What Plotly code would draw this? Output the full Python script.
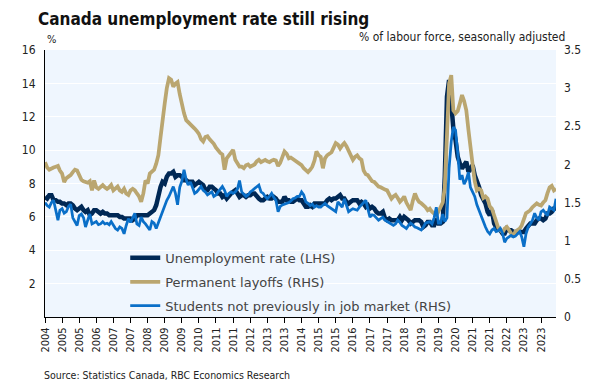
import pandas as pd
import plotly.graph_objects as go

# Monthly observations, Aug 2004 .. Jul 2024
dates = pd.date_range("2004-08-01", periods=240, freq="MS")

unemployment = [
    # 2004 Aug-Dec
    7.2, 7.1, 7.3, 7.3, 7.0,
    # 2005
    7.0, 6.9, 6.9, 6.8, 6.8, 6.7, 6.8, 6.8, 6.7, 6.5, 6.4, 6.5,
    # 2006
    6.6, 6.4, 6.3, 6.4, 6.1, 6.2, 6.4, 6.4, 6.3, 6.2, 6.3, 6.2,
    # 2007
    6.2, 6.1, 6.1, 6.1, 6.1, 6.1, 6.0, 6.0, 5.9, 5.9, 5.9, 5.9,
    # 2008
    5.8, 5.9, 6.1, 6.1, 6.1, 6.1, 6.1, 6.1, 6.2, 6.3, 6.4, 6.7,
    # 2009
    7.3, 7.8, 8.1, 8.0, 8.4, 8.6, 8.6, 8.7, 8.4, 8.5, 8.5, 8.4,
    # 2010
    8.2, 8.2, 8.1, 8.1, 8.1, 7.9, 8.0, 8.1, 8.0, 7.9, 7.6, 7.6,
    # 2011
    7.8, 7.8, 7.7, 7.6, 7.4, 7.4, 7.2, 7.3, 7.1, 7.3, 7.4, 7.5,
    # 2012
    7.6, 7.4, 7.2, 7.3, 7.3, 7.2, 7.3, 7.3, 7.4, 7.4, 7.2, 7.1,
    # 2013
    7.0, 7.0, 7.1, 7.2, 7.1, 7.1, 7.2, 7.1, 6.9, 6.9, 6.9, 7.2,
    # 2014
    7.0, 7.0, 6.9, 6.9, 7.0, 7.1, 7.0, 7.0, 6.8, 6.6, 6.6, 6.7,
    # 2015
    6.6, 6.8, 6.8, 6.8, 6.8, 6.8, 6.8, 7.0, 7.1, 7.0, 7.1, 7.1,
    # 2016
    7.2, 7.3, 7.1, 7.1, 6.9, 6.8, 6.9, 7.0, 7.0, 7.0, 6.8, 6.9,
    # 2017
    6.8, 6.6, 6.7, 6.5, 6.6, 6.5, 6.3, 6.2, 6.2, 6.3, 5.9, 5.8,
    # 2018
    5.9, 5.8, 5.8, 5.8, 5.8, 6.0, 5.8, 6.0, 5.9, 5.8, 5.6, 5.7,
    # 2019
    5.8, 5.8, 5.8, 5.7, 5.4, 5.5, 5.7, 5.7, 5.5, 5.5, 5.9, 5.6,
    # 2020
    5.6, 5.7, 8.4, 13.2, 14.2, 12.8, 11.3, 10.6, 9.6, 9.2, 8.9, 9.1,
    # 2021
    9.3, 8.7, 8.9, 9.1, 8.5, 8.2, 7.8, 7.3, 7.0, 6.8, 6.3, 6.1,
    # 2022
    6.4, 5.6, 5.4, 5.3, 5.2, 5.0, 5.0, 5.3, 5.2, 5.2, 5.1, 5.1,
    # 2023
    5.1, 5.1, 5.1, 5.1, 5.3, 5.5, 5.6, 5.6, 5.6, 5.8, 5.9, 5.9,
    # 2024 Jan-Jul
    5.8, 5.9, 6.2, 6.2, 6.3, 6.5, 6.5,
]

permanent_layoffs = [
    # 2004 Aug-Dec
    2.03, 1.96, 1.93, 1.95, 1.96,
    # 2005
    1.97, 1.98, 1.92, 1.88, 1.77, 1.82, 1.84, 1.86, 1.90, 1.93, 1.92, 1.85,
    # 2006
    1.80, 1.78, 1.77, 1.76, 1.78, 1.66, 1.79, 1.70, 1.68, 1.71, 1.73, 1.70,
    # 2007
    1.68, 1.70, 1.73, 1.66, 1.68, 1.71, 1.66, 1.64, 1.68, 1.62, 1.60, 1.66,
    # 2008
    1.68, 1.66, 1.62, 1.58, 1.51, 1.62, 1.79, 1.75, 1.88, 1.90, 1.93, 2.01,
    # 2009
    2.12, 2.36, 2.60, 2.80, 3.00, 3.13, 3.11, 3.02, 3.06, 3.08, 2.92, 2.78,
    # 2010
    2.67, 2.58, 2.55, 2.52, 2.50, 2.47, 2.44, 2.40, 2.33, 2.30, 2.36, 2.37,
    # 2011
    2.33, 2.30, 2.27, 2.22, 2.18, 2.15, 2.13, 1.93, 2.08, 2.12, 2.17, 2.19,
    # 2012
    2.06, 2.02, 1.97, 1.97, 1.95, 1.99, 2.00, 1.97, 1.98, 2.00, 2.04, 2.06,
    # 2013
    2.03, 2.05, 2.06, 2.04, 2.03, 2.05, 2.06, 2.05, 1.98, 2.02, 2.10, 2.17,
    # 2014
    2.14, 2.08, 2.09, 2.07, 2.06, 2.04, 2.01, 1.99, 1.95, 1.92, 1.90, 1.93,
    # 2015
    1.97, 2.05, 2.17, 2.12, 2.10, 1.95, 2.08, 2.12, 2.14, 2.16, 2.22, 2.28,
    # 2016
    2.26, 2.21, 2.25, 2.28, 2.24, 2.17, 2.12, 2.06, 2.10, 2.12, 2.08, 2.06,
    # 2017
    1.92, 1.87, 1.86, 1.82, 1.78, 1.77, 1.73, 1.71, 1.70, 1.68, 1.67, 1.66,
    # 2018
    1.60, 1.55, 1.58, 1.60, 1.56, 1.51, 1.54, 1.58, 1.50, 1.45, 1.40, 1.52,
    # 2019
    1.62, 1.55, 1.51, 1.49, 1.47, 1.44, 1.40, 1.42, 1.38, 1.36, 1.33, 1.38,
    # 2020
    1.44, 1.50, 1.70, 2.49, 3.06, 3.17, 2.71, 2.67, 2.70, 2.80, 2.91, 2.83,
    # 2021
    2.71, 2.45, 2.20, 2.00, 1.78, 1.66, 1.68, 1.66, 1.56, 1.58, 1.55, 1.45,
    # 2022
    1.42, 1.32, 1.23, 1.17, 1.14, 1.11, 1.16, 1.18, 1.14, 1.10, 1.05, 1.12,
    # 2023
    1.14, 1.16, 1.20, 1.28, 1.36, 1.38, 1.40, 1.44, 1.46, 1.49, 1.47, 1.46,
    # 2024 Jan-Jul
    1.50, 1.53, 1.62, 1.70, 1.72, 1.66, 1.68,
]

students_new = [
    # 2004 Aug-Dec
    1.50, 1.46, 1.44, 1.50, 1.53,
    # 2005
    1.38, 1.27, 1.40, 1.42, 1.36, 1.38, 1.45, 1.48, 1.30, 1.25, 1.20, 1.33,
    # 2006
    1.35, 1.30, 1.18, 1.27, 1.35, 1.22, 1.24, 1.25, 1.21, 1.22, 1.25, 1.22,
    # 2007
    1.23, 1.21, 1.25, 1.20, 1.16, 1.14, 1.18, 1.16, 1.09, 1.20, 1.29, 1.24,
    # 2008
    1.30, 1.36, 1.22, 1.20, 1.31, 1.25, 1.22, 1.18, 1.14, 1.25, 1.23, 1.16,
    # 2009
    1.24, 1.31, 1.40, 1.48, 1.53, 1.58, 1.65, 1.71, 1.62, 1.47, 1.70, 1.78,
    # 2010
    1.93, 1.80, 1.73, 1.77, 1.70, 1.62, 1.64, 1.68, 1.71, 1.66, 1.64, 1.60,
    # 2011
    1.62, 1.64, 1.58, 1.60, 1.64, 1.67, 1.71, 1.66, 1.58, 1.62, 1.64, 1.62,
    # 2012
    1.64, 1.68, 1.79, 1.64, 1.61, 1.58, 1.60, 1.64, 1.66, 1.68, 1.70, 1.73,
    # 2013
    1.64, 1.62, 1.58, 1.55, 1.58, 1.62, 1.57, 1.53, 1.38, 1.45, 1.47, 1.48,
    # 2014
    1.49, 1.50, 1.52, 1.55, 1.56, 1.58, 1.58, 1.64, 1.60, 1.51, 1.49, 1.46,
    # 2015
    1.48, 1.44, 1.46, 1.44, 1.44, 1.46, 1.49, 1.46, 1.44, 1.42, 1.40, 1.38,
    # 2016
    1.51, 1.47, 1.44, 1.55, 1.46, 1.38, 1.40, 1.42, 1.41, 1.40, 1.44, 1.47,
    # 2017
    1.49, 1.53, 1.42, 1.31, 1.34, 1.33, 1.30, 1.27, 1.29, 1.31, 1.27, 1.25,
    # 2018
    1.23, 1.21, 1.20, 1.22, 1.27, 1.24, 1.20, 1.18, 1.16, 1.20, 1.23, 1.21,
    # 2019
    1.18, 1.17, 1.16, 1.14, 1.18, 1.23, 1.24, 1.25, 1.22, 1.30, 1.44, 1.23,
    # 2020
    1.23, 1.35, 1.25, 1.30, 1.95, 2.30, 2.49, 2.45, 2.15, 1.80, 1.86, 1.74,
    # 2021
    1.80, 1.90, 1.70, 1.64, 1.58, 1.47, 1.40, 1.31, 1.23, 1.18, 1.12, 1.09,
    # 2022
    1.14, 1.16, 1.12, 1.13, 1.16, 1.10, 0.98, 1.03, 1.05, 1.07, 1.05, 1.06,
    # 2023
    1.09, 1.12, 1.05, 0.92, 1.09, 1.18, 1.22, 1.27, 1.36, 1.30, 1.27, 1.38,
    # 2024 Jan-Jul
    1.40, 1.36, 1.33, 1.44, 1.42, 1.40, 1.55,
]

left_ticks = [2, 4, 6, 8, 10, 12, 14, 16]
right_ticks = [0, 0.5, 1, 1.5, 2, 2.5, 3, 3.5]
right_tick_text = ["0", "0.5", "1", "1.5", "2", "2.5", "3", "3.5"]

FONT = "DejaVu Sans Condensed, DejaVu Sans, sans-serif"
LEGEND_FONT = "DejaVu Sans, sans-serif"
NAVY = "#002855"
TAN = "#BAA670"
BLUE = "#0A6FC8"

fig = go.Figure()
fig.add_trace(go.Scatter(x=dates, y=unemployment, name="Unemployment rate (LHS)",
                         mode="lines", line=dict(color=NAVY, width=4.5),
                         legendgroup="a", yaxis="y"))
fig.add_trace(go.Scatter(x=dates, y=permanent_layoffs, name="Permanent layoffs (RHS)",
                         mode="lines", line=dict(color=TAN, width=3.75),
                         legendgroup="b", yaxis="y2"))
fig.add_trace(go.Scatter(x=dates, y=students_new, name="Students not previously in job market (RHS)",
                         mode="lines", line=dict(color=BLUE, width=2.75),
                         legendgroup="c", yaxis="y2"))

fig.update_layout(
    width=600, height=388,
    margin=dict(l=45, r=44, t=50, b=71),
    paper_bgcolor="white",
    plot_bgcolor="#EFF6FE",
    font=dict(family=FONT, size=12, color="#222222"),
    title=dict(text="<b>Canada unemployment rate still rising</b>",
               x=38 / 600, xanchor="left", xref="container",
               y=1 - 19 / 388, yanchor="middle", yref="container",
               font=dict(family=FONT, size=17, color="#111111")),
    showlegend=True,
    legend=dict(x=0.157, xanchor="left", y=0.2775, yanchor="top",
                bgcolor="rgba(0,0,0,0)", borderwidth=0,
                font=dict(family=LEGEND_FONT, size=13, color="#444444"),
                tracegroupgap=4, itemwidth=30),
    xaxis=dict(type="date", range=["2004-08-01", "2024-07-01"],
               tick0="2004-08-01", dtick="M8", tickformat="%Y",
               tickangle=-90, ticks="outside", ticklen=5, tickcolor="black",
               showline=True, linecolor="black", linewidth=1,
               showgrid=False, tickfont=dict(size=11, color="#222222")),
    yaxis=dict(range=[0, 16], tickvals=left_ticks, showgrid=True,
               gridcolor="white", gridwidth=1, showline=True,
               linecolor="black", linewidth=1, ticks="", zeroline=False,
               tickfont=dict(size=12, color="#222222"), ticklabelstandoff=6),
    yaxis2=dict(range=[0, 3.5], tickvals=right_ticks, ticktext=right_tick_text,
                overlaying="y", side="right", showgrid=False, showline=False,
                zeroline=False, ticks="", tickfont=dict(size=12, color="#222222"),
                ticklabelstandoff=7),
)

fig.add_annotation(text="%", xref="paper", yref="paper", x=0, y=1.0375, xanchor="left",
                   yanchor="middle", showarrow=False,
                   font=dict(family=FONT, size=11, color="#222222"))
fig.add_annotation(text="% of labour force, seasonally adjusted", xref="paper", yref="paper",
                   x=1.0215, y=1.0487, xanchor="right", yanchor="middle",
                   showarrow=False, font=dict(family=FONT, size=12, color="#222222"))
fig.add_annotation(text="Source: Statistics Canada, RBC Economics Research",
                   xref="paper", yref="paper", x=-0.006, y=-0.217,
                   xanchor="left", yanchor="middle", showarrow=False,
                   font=dict(family=FONT, size=10.5, color="#222222"))

fig.write_html("out.html", config={"displayModeBar": False},
               post_script="document.body.style.margin='0';")
